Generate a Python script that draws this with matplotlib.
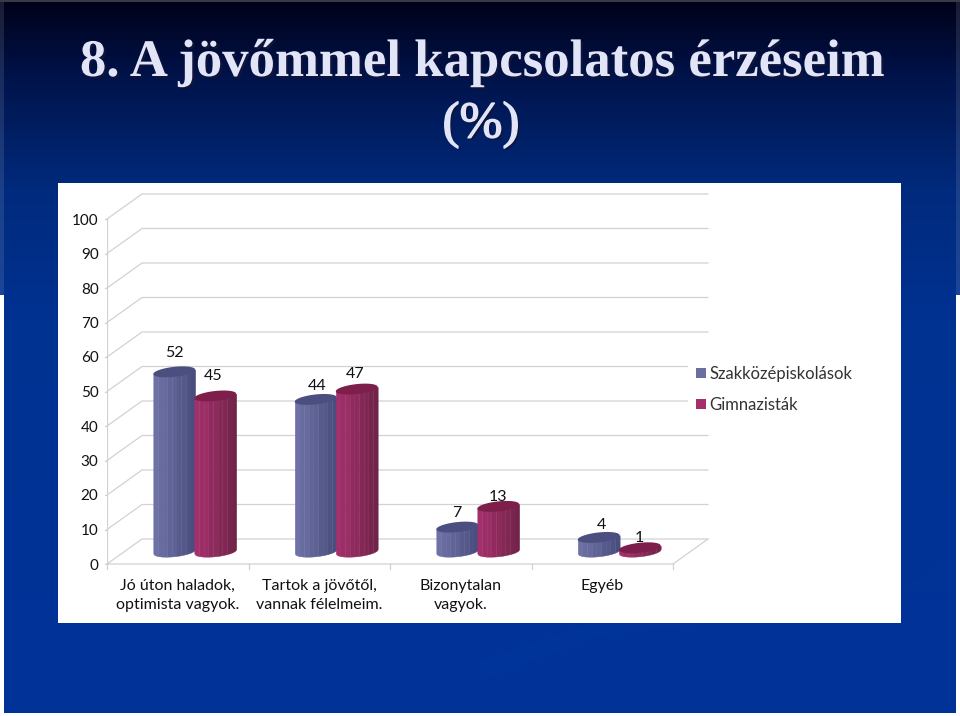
import numpy as np
import matplotlib
matplotlib.use("Agg")
import matplotlib.pyplot as plt
import matplotlib.patheffects as pe
from matplotlib.patches import Rectangle, Polygon
from matplotlib.colors import LinearSegmentedColormap, to_rgb


# Chart data
categories = ["Jó úton haladok,\noptimista vagyok.", "Tartok a jövőtől,\nvannak félelmeim.",
              "Bizonytalan\nvagyok.", "Egyéb"]
szakkozep = [52, 44, 7, 4]
gimnazium = [45, 47, 13, 1]
y_ticks = [0, 10, 20, 30, 40, 50, 60, 70, 80, 90, 100]
series_names = ["Szakközépiskolások", "Gimnazisták"]
title_main = "8. A jövőmmel kapcsolatos érzéseim"
title_unit = "(%)"

W, H = 960, 716
fig = plt.figure(figsize=(W / 100, H / 100), dpi=100, facecolor="white")
plt.rcParams["font.family"] = ["Lato", "DejaVu Sans"]

# Slide background in pixel coordinates
bg = fig.add_axes([0, 0, 1, 1])
cmap = LinearSegmentedColormap.from_list(
    "slide", [(0, "#00021a"), (0.1, "#001248"), (0.26, "#002a7c"), (0.45, "#003292"), (1, "#003399")])
grad = np.linspace(0, 1, 256).reshape(-1, 1)
bg.imshow(grad, cmap=cmap, extent=(4, 956, 713, 1), aspect="auto", zorder=0)
# thin edge strips and the faint streaks of the slide template
bg.imshow(grad[:105], cmap=cmap, vmin=0, vmax=1, extent=(0, 4, 295, 0), aspect="auto", alpha=0.9, zorder=0)
bg.imshow(grad[:105], cmap=cmap, vmin=0, vmax=1, extent=(956, 960, 295, 0), aspect="auto", alpha=0.9, zorder=0)
bg.set_xlim(0, W)
bg.set_ylim(H, 0)
bg.axis("off")
bg.add_patch(Rectangle((0, 0), W, 1.5, color="#3a3a44", lw=0, zorder=1))
bg.add_patch(Polygon([(480, 680), (600, 635), (720, 622), (600, 622), (480, 660)], color="#0a3ea6", alpha=0.18, lw=0))
bg.add_patch(Polygon([(901, 590), (956, 555), (956, 590)], color="#0a3ea6", alpha=0.12, lw=0))
bg.add_patch(Rectangle((58, 183), 843, 440, color="white", lw=0, zorder=2))
shadow = pe.SimplePatchShadow(offset=(1.5, -1.5), shadow_rgbFace="#10143a", alpha=1)
bg.text(482, 63, title_main, family="Liberation Serif", weight="bold", fontsize=38, color="#e2e5f8",
        ha="center", va="center", zorder=3, path_effects=[shadow, pe.Normal()])
bg.text(481, 125, title_unit, family="Liberation Serif", fontsize=37, color="#e2e5f8",
        ha="center", va="center", zorder=3,
        path_effects=[shadow, pe.withStroke(linewidth=1.0, foreground="#e2e5f8")])

# Chart axes: front plane of the 3D box
left, right, y0, y100 = 107, 673, 564, 219
ax = fig.add_axes([left / W, 1 - y0 / H, (right - left) / W, (y0 - y100) / H])
ax.set_xlim(0, len(categories))
ax.set_ylim(0, 100)
ax.patch.set_alpha(0)
for s in ax.spines.values():
    s.set_visible(False)
ax.set_xticks([])
ax.set_yticks([])

px_x = len(categories) / (right - left)
px_y = 100 / (y0 - y100)
depth_x = 35 * px_x
depth_y = 25 * px_y
grid_c = "#d2d2d2"

# box: gridlines on the back wall and the diagonals on the side wall
for v in y_ticks:
    ax.plot([0, depth_x, len(categories) + depth_x], [v, v + depth_y, v + depth_y], color=grid_c, lw=0.9, clip_on=False)
    ax.plot([-2 * px_x, 0], [v, v], color=grid_c, lw=0.9, clip_on=False)
    ax.text(-8.5 * px_x, v - 1.5 * px_y, str(v), ha="right", va="center", fontsize=11, color="#111111", clip_on=False)
ax.plot([0, 0], [0, 100], color=grid_c, lw=0.9)
ax.plot([0, len(categories), len(categories) + depth_x], [0, 0, depth_y], color=grid_c, lw=0.9, clip_on=False)
for i in range(len(categories) + 1):
    ax.plot([i, i], [0, -5 * px_y], color=grid_c, lw=0.9, clip_on=False)


def cylinder(xc, val, light, dark, top, facets=9):
    half = 0.148
    base = 3.7
    b = 5 * px_y
    tilt = 2.2 * px_y / half
    edges = np.linspace(-half, half, facets + 1)
    body = np.linspace(0, 1, facets)
    l, d = np.array(to_rgb(light)), np.array(to_rgb(dark))
    for j in range(facets):
        xs = np.linspace(edges[j], edges[j + 1], 8)
        under = b * np.sqrt(np.clip(1 - (xs / half) ** 2, 0, 1))
        low = base + tilt * xs - under
        high = base + val + tilt * xs
        col = l + (d - l) * body[j] ** 1.2
        if j % 2:
            col = col * 0.98
        ax.fill_between(xc + xs, low, high, color=col, lw=0.3, clip_on=False, zorder=3)
    t = np.linspace(0, 2 * np.pi, 60)
    ax.fill(xc + half * np.cos(t), base + val + tilt * half * np.cos(t) + b * np.sin(t),
            color=top, lw=0, clip_on=False, zorder=4)


x_blue = np.arange(len(categories)) + 0.475
x_red = np.arange(len(categories)) + 0.765
blue = ("#6d71a6", "#4a4e7e", "#4b4f80")
red = ("#a3306c", "#722448", "#7d1f4a")
for x, v in zip(x_blue, szakkozep):
    cylinder(x, v, *blue)
for x, v in zip(x_red, gimnazium):
    cylinder(x, v, *red)

# value labels, nudged by hand like the original ones
blue_nudge = [(0, 19), (1, 13), (0, 14), (3, 12)]
red_nudge = [(-2, 20), (-2, 15), (0, 9), (0, 10)]
for xs, vals, nudges in [(x_blue, szakkozep, blue_nudge), (x_red, gimnazium, red_nudge)]:
    for x, v, n in zip(xs, vals, nudges):
        ax.annotate(str(v), (x, v + 3.7), xytext=(n[0] * 0.72, n[1] * 0.72), textcoords="offset points",
                    ha="center", va="center", fontsize=11.5, color="#111111", annotation_clip=False, zorder=5)

# category labels
for i, c in enumerate(categories):
    ax.text(i + 0.5, -4.3, c, ha="center", va="top", fontsize=11.5, color="#111111",
            linespacing=1.45, clip_on=False)

# legend, with the white box that cuts the gridlines
leg = fig.add_axes([0, 0, 1, 1], zorder=2)
leg.set_xlim(0, W)
leg.set_ylim(H, 0)
leg.axis("off")
leg.add_patch(Rectangle((688, 358), 170, 56, color="white", lw=0))
for yp, name, col in [(373, series_names[0], "#6a6ea0"), (404, series_names[1], "#a3306c")]:
    leg.add_patch(Rectangle((696, yp - 5), 10, 10, color=col, lw=0))
    leg.text(709, yp + 1, name, ha="left", va="center", fontsize=12, color="#333333")

fig.savefig("out.png", dpi=100)
